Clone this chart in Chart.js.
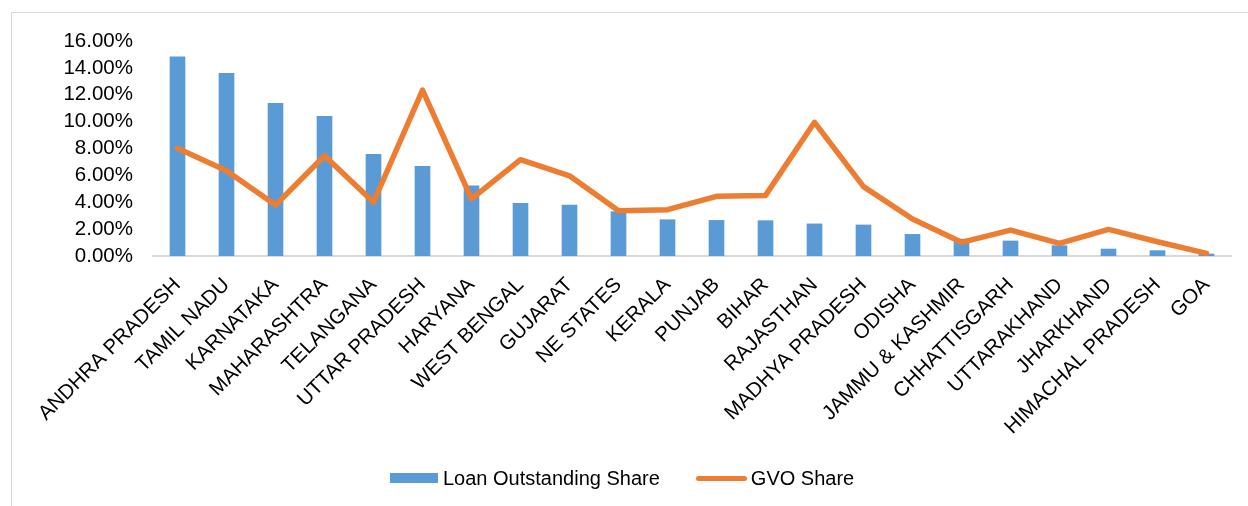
<!DOCTYPE html>
<html>
<head>
<meta charset="utf-8">
<script src="https://cdn.jsdelivr.net/npm/chart.js@4/dist/chart.umd.min.js"></script>
<style>
  html, body { margin: 0; padding: 0; background: #fff; overflow: hidden; }
  body { width: 1248px; height: 506px; position: relative; font-family: "Liberation Sans", Arial, sans-serif; }
  #frame { position: absolute; left: 11px; top: 12px; width: 1260px; height: 520px; border: 1px solid #d9d9d9; box-sizing: border-box; }
  #wrap { position: absolute; left: 0; top: 0; width: 1248px; height: 506px; }
  #legend { position: absolute; left: 390px; top: 466px; height: 24px; display: flex; align-items: center; font-size: 20px; color: #000; }
  .sw-bar { width: 48px; height: 10px; background: #5b9bd5; margin-right: 5px; }
  .sw-line { width: 51px; height: 5px; border-radius: 3px; background: #ed7d31; margin-right: 4px; margin-left: 36px; }
</style>
</head>
<body>
<div id="frame"></div>
<div id="wrap"><canvas id="chart" width="1248" height="506"></canvas></div>
<div id="legend">
  <div class="sw-bar"></div><span>Loan Outstanding Share</span>
  <div class="sw-line"></div><span>GVO Share</span>
</div>
<script>
const states = [
  'ANDHRA PRADESH', 'TAMIL NADU', 'KARNATAKA', 'MAHARASHTRA', 'TELANGANA',
  'UTTAR PRADESH', 'HARYANA', 'WEST BENGAL', 'GUJARAT', 'NE STATES', 'KERALA',
  'PUNJAB', 'BIHAR', 'RAJASTHAN', 'MADHYA PRADESH', 'ODISHA', 'JAMMU & KASHMIR',
  'CHHATTISGARH', 'UTTARAKHAND', 'JHARKHAND', 'HIMACHAL PRADESH', 'GOA'
];
// values in percent
const loanShare = [14.83, 13.59, 11.36, 10.39, 7.57, 6.67, 5.23, 3.92, 3.79, 3.30, 2.70,
                   2.65, 2.63, 2.39, 2.31, 1.61, 1.26, 1.12, 0.77, 0.52, 0.40, 0.15];
const gvoShare = [8.01, 6.35, 3.79, 7.46, 4.00, 12.35, 4.25, 7.17, 5.97, 3.37, 3.45,
                  4.44, 4.51, 9.95, 5.16, 2.75, 1.02, 1.93, 0.94, 1.98, 1.06, 0.20];
const yTicks = [0, 2, 4, 6, 8, 10, 12, 14, 16];

const font = { family: "'Liberation Sans', Arial, sans-serif", size: 20.5 };

new Chart(document.getElementById('chart').getContext('2d'), {
  data: {
    labels: states,
    datasets: [
      {
        type: 'bar',
        label: 'Loan Outstanding Share',
        data: loanShare,
        backgroundColor: '#5b9bd5',
        barThickness: 15,
        order: 1,
      },
      {
        type: 'line',
        label: 'GVO Share',
        data: gvoShare,
        borderColor: '#ed7d31',
        borderWidth: 5.5,
        borderCapStyle: 'round',
        borderJoinStyle: 'round',
        pointRadius: 0,
        tension: 0,
        fill: false,
        order: 0,
      },
    ],
  },
  options: {
    responsive: false,
    animation: false,
    layout: { padding: { left: 0, top: 41, right: 17, bottom: 0 } },
    plugins: { legend: { display: false }, tooltip: { enabled: false } },
    scales: {
      x: {
        grid: { display: false },
        border: { color: '#d9d9d9', width: 2 },
        ticks: {
          color: '#000',
          font: font,
          minRotation: 45,
          maxRotation: 45,
          autoSkip: false,
          padding: 9,
        },
        afterFit: (s) => { s.height = 250; },
      },
      y: {
        min: 0,
        max: 16,
        grid: { display: false },
        border: { display: false },
        afterBuildTicks: (s) => { s.ticks = yTicks.map(v => ({ value: v })); },
        ticks: {
          color: '#000',
          font: font,
          padding: 12,
          autoSkip: false,
          callback: (v) => v.toFixed(2) + '%',
        },
        afterFit: (s) => { s.width = 153; },
      },
    },
  },
});
</script>
</body>
</html>
